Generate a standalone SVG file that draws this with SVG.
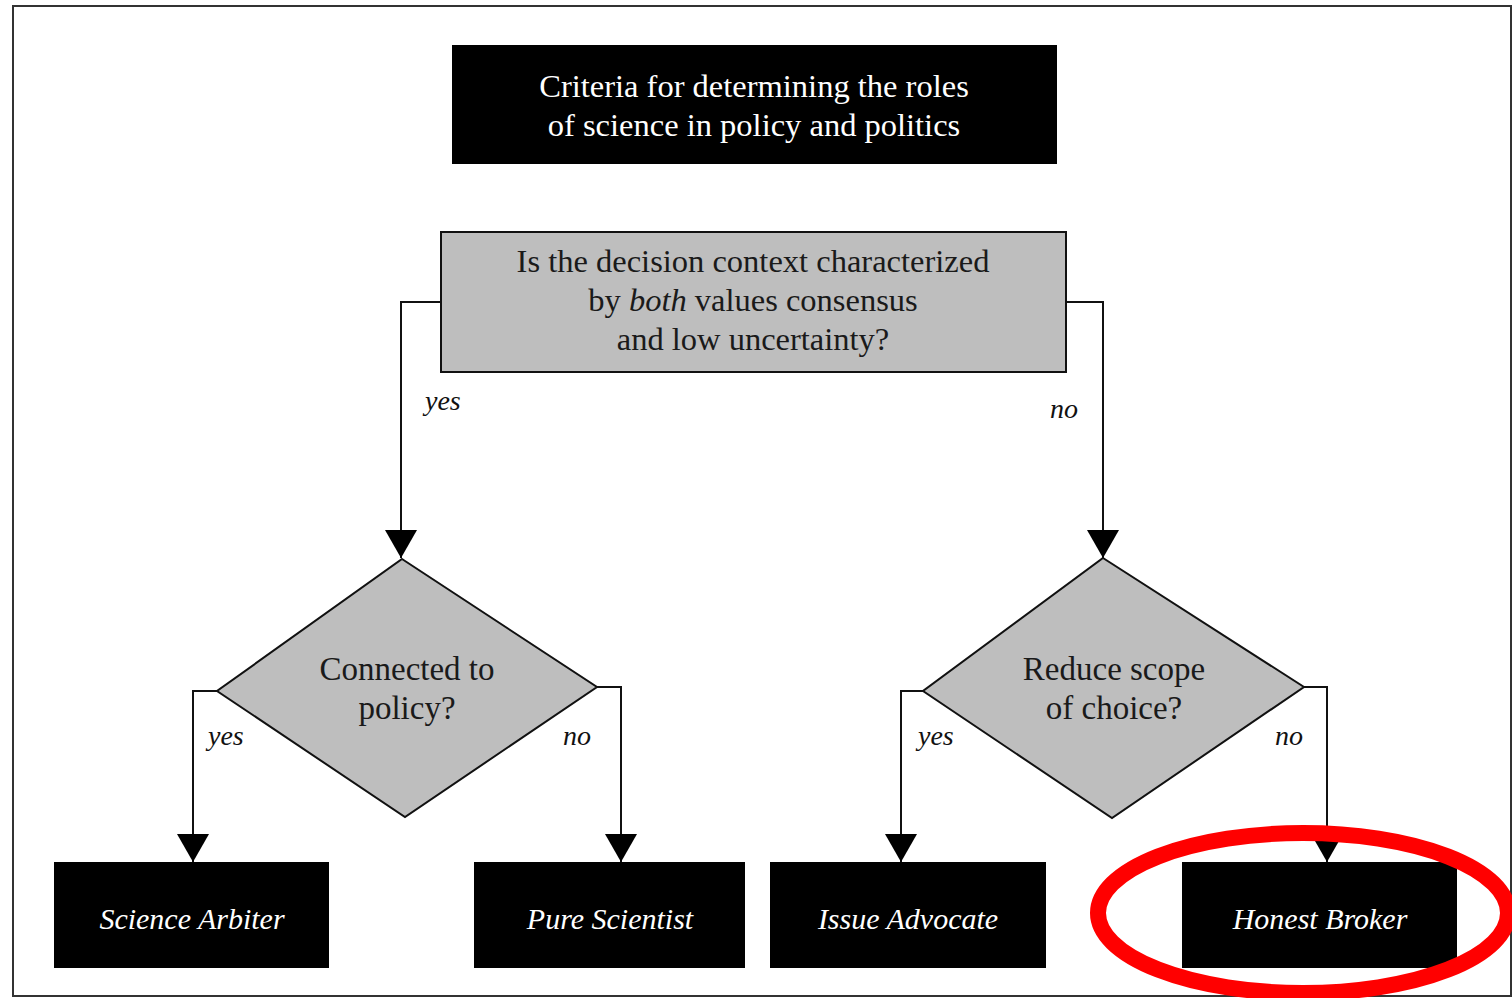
<svg xmlns="http://www.w3.org/2000/svg" width="1512" height="998" viewBox="0 0 1512 998">
<style>
.t{font-family:"Liberation Serif","DejaVu Serif",serif;text-anchor:middle;}
.q{font-size:32.5px;fill:#1a1a1a;}
.d{font-size:33px;fill:#1a1a1a;}
.h{font-size:32.5px;fill:#ffffff;}
.r{font-size:30px;fill:#ffffff;font-style:italic;}
.l{font-family:"Liberation Serif","DejaVu Serif",serif;font-size:28px;font-style:italic;fill:#111;}
.blk{fill:#000;}
.gray{fill:#bebebe;stroke:#111;stroke-width:2;}
.c{fill:none;stroke:#111;stroke-width:2;marker-end:url(#arr);}
</style>
<defs>
<marker id="arr" markerUnits="userSpaceOnUse" markerWidth="28" markerHeight="32" viewBox="0 0 28 32" refX="28" refY="16" orient="auto">
<path d="M0,0 L28,16 L0,32 z" fill="#000"/>
</marker>
</defs>
<rect x="0" y="0" width="1512" height="998" fill="#fff"/>
<rect x="13" y="6" width="1498" height="990" fill="none" stroke="#333" stroke-width="2"/>

<g id="connectors">
<path class="c" d="M441,302 H401 V558"/>
<path class="c" d="M1066,302 H1103 V558"/>
<path class="c" d="M217,691 H193 V862"/>
<path class="c" d="M597,687 H621 V862"/>
<path class="c" d="M923,691 H901 V862"/>
<path class="c" d="M1304,687 H1327 V862"/>
<text class="l" x="425" y="410">yes</text>
<text class="l" x="1050" y="418">no</text>
<text class="l" x="208" y="745">yes</text>
<text class="l" x="563" y="745">no</text>
<text class="l" x="918" y="745">yes</text>
<text class="l" x="1275" y="745">no</text>
</g>

<g id="title">
<rect class="blk" x="452" y="45" width="605" height="119"/>
<text class="t h" x="754" y="97">Criteria for determining the roles</text>
<text class="t h" x="754" y="136">of science in policy and politics</text>
</g>

<g id="question">
<rect class="gray" x="441" y="232" width="625" height="140"/>
<text class="t q" x="753" y="272">Is the decision context characterized</text>
<text class="t q" x="753" y="311">by <tspan font-style="italic">both</tspan> values consensus</text>
<text class="t q" x="753" y="350">and low uncertainty?</text>
</g>

<g id="connected">
<polygon class="gray" points="402,559 597,687 405,817 217,691"/>
<text class="t d" x="407" y="680">Connected to</text>
<text class="t d" x="407" y="719">policy?</text>
</g>

<g id="reduce">
<polygon class="gray" points="1103,558 1304,687 1112,818 923,691"/>
<text class="t d" x="1114" y="680">Reduce scope</text>
<text class="t d" x="1114" y="719">of choice?</text>
</g>

<g id="science-arbiter">
<rect class="blk" x="54" y="862" width="275" height="106"/>
<text class="t r" x="192" y="929">Science Arbiter</text>
</g>
<g id="pure-scientist">
<rect class="blk" x="474" y="862" width="271" height="106"/>
<text class="t r" x="610" y="929">Pure Scientist</text>
</g>
<g id="issue-advocate">
<rect class="blk" x="770" y="862" width="276" height="106"/>
<text class="t r" x="908" y="929">Issue Advocate</text>
</g>
<g id="honest-broker">
<rect class="blk" x="1182" y="862" width="275" height="106"/>
<text class="t r" x="1320" y="929">Honest Broker</text>
</g>

<ellipse id="highlight" cx="1303" cy="913" rx="205" ry="80" fill="none" stroke="#ff0000" stroke-width="16"/>
</svg>
